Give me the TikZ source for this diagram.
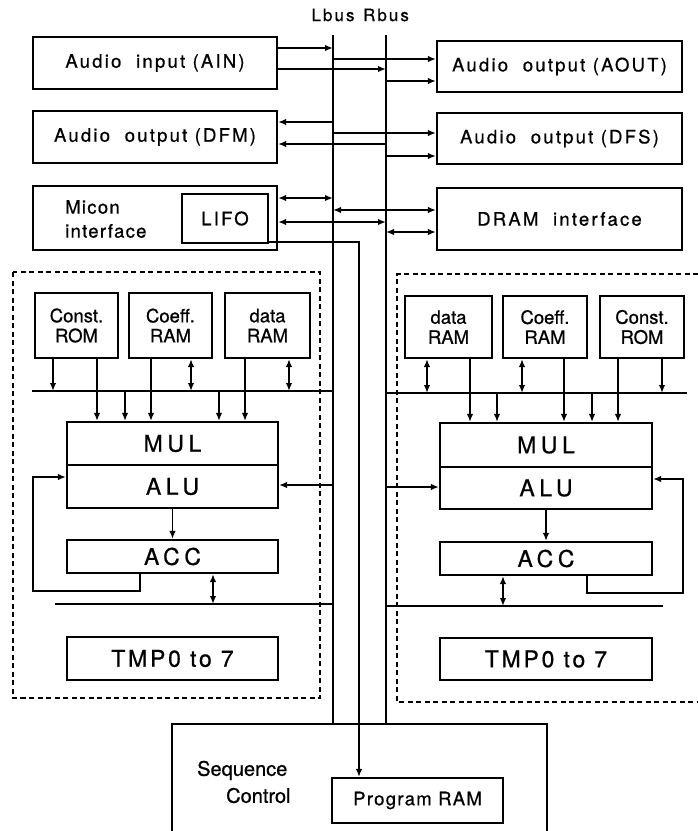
\documentclass[tikz,border=0pt]{standalone}
\usepackage{fontspec}
\setmainfont[FakeBold=0.7]{TeX Gyre Heros}
\newfontfamily\spA[LetterSpace=12,FakeBold=0.7]{TeX Gyre Heros}
\newfontfamily\spB[LetterSpace=20,FakeBold=0.7]{TeX Gyre Heros}
\newfontfamily\spC[LetterSpace=7,FakeBold=0.7]{TeX Gyre Heros}
\usetikzlibrary{arrows.meta}
\begin{document}
\begin{tikzpicture}[x=1pt,y=-1pt,
  box/.style={draw, line width=2.2pt, inner sep=0pt, align=center},
  lbl/.style={font=\spA\fontsize{18.5}{20}\selectfont},
  ram/.style={font=\fontsize{18.5}{20}\selectfont},
  big/.style={font=\spB\fontsize{23}{25}\selectfont},
  conn/.style={line width=1.9pt},
  arr/.style={conn, -{Latex[length=8pt,width=6.5pt]}},
  darr/.style={conn, {Latex[length=8pt,width=6.5pt]}-{Latex[length=8pt,width=6.5pt]}},
  bus/.style={line width=2.8pt},
  dsp/.style={line width=1.9pt, dash pattern=on 5pt off 3.5pt}]
\useasboundingbox (0,0) rectangle (698,831);
\fill[white] (0,0) rectangle (698,831);

% bus lines
\coordinate (Lt) at (333,35);
\coordinate (Lb) at (333,724);
\coordinate (Rt) at (386,35);
\coordinate (Rb) at (386,724);
\node[font=\spA\fontsize{17}{18}\selectfont] (lbusl) at (333,15) {Lbus};
\node[font=\spA\fontsize{17}{18}\selectfont] (rbusl) at (386,15) {Rbus};

% top boxes
\node[box,lbl,minimum width=244pt,minimum height=52pt] (AIN) at (155,63) {Audio\ \ input (AIN)};
\node[box,lbl,minimum width=245pt,minimum height=51pt] (AOUT) at (559.5,66.5) {Audio\ \ output (AOUT)};
\node[box,lbl,minimum width=244pt,minimum height=52pt] (DFM) at (155,137) {Audio\ \ output (DFM)};
\node[box,lbl,minimum width=245pt,minimum height=51pt] (DFS) at (559.5,138.5) {Audio\ \ output (DFS)};
\node[box,minimum width=244pt,minimum height=64pt] (MICON) at (155,218) {};
\node[ram,font=\spC\fontsize{18.5}{24}\selectfont,align=left,anchor=west,inner sep=0pt] (MICONt) at (65,219) {Micon\\interface};
\node[box,lbl,minimum width=86pt,minimum height=49pt] (LIFO) at (225,218.5) {LIFO};
\node[box,lbl,minimum width=245pt,minimum height=62pt] (DRAM) at (559.5,219) {DRAM\ \ interface};

% left DSP
\draw[dsp] (13,272) rectangle (320,698);
\node[box,ram,minimum width=83pt,minimum height=65pt] (CRL) at (76.5,325.5) {Const.\\ROM};
\node[box,ram,minimum width=83pt,minimum height=65pt] (KRL) at (170.5,325.5) {Coeff.\\RAM};
\node[box,ram,minimum width=85pt,minimum height=65pt] (DRL) at (267.5,325.5) {data\\RAM};
\node[box,big,minimum width=211pt,minimum height=43pt] (MULL) at (172.5,443.5) {MUL};
\node[box,big,minimum width=211pt,minimum height=43pt] (ALUL) at (172.5,486.5) {ALU};
\node[box,big,minimum width=211pt,minimum height=33pt] (ACCL) at (172.5,556.5) {ACC};
\node[box,big,font=\spA\fontsize{23}{25}\selectfont,minimum width=211pt,minimum height=43pt] (TMPL) at (172.5,658.5) {TMP0 to 7};

% right DSP
\draw[dsp] (698,274) -- (397,274) -- (397,702) -- (698,702);
\node[box,ram,minimum width=87pt,minimum height=62pt] (DRR) at (448.5,327) {data\\RAM};
\node[box,ram,minimum width=84pt,minimum height=62pt] (KRR) at (545,327) {Coeff.\\RAM};
\node[box,ram,minimum width=84pt,minimum height=62pt] (CRR) at (642,327) {Const.\\ROM};
\node[box,big,minimum width=212pt,minimum height=44pt] (MULR) at (546,445) {MUL};
\node[box,big,minimum width=212pt,minimum height=42pt] (ALUR) at (546,488) {ALU};
\node[box,big,minimum width=212pt,minimum height=33pt] (ACCR) at (546,558.5) {ACC};
\node[box,big,font=\spA\fontsize{23}{25}\selectfont,minimum width=212pt,minimum height=42pt] (TMPR) at (546,659) {TMP0 to 7};

% sequence control
\draw[line width=2.2pt] (172,831) -- (172,724) -- (547,724) -- (547,831);
\node[ram,font=\fontsize{20}{27}\selectfont,align=left,anchor=west,inner sep=0pt] (SEQ) at (197,782) {Sequence\\\hspace*{29pt}Control};
\node[box,font=\spC\fontsize{18.5}{20}\selectfont,minimum width=171pt,minimum height=45pt] (PRAM) at (417.5,800.5) {Program RAM};

% buses
\draw[bus] (Lt) -- (Lb);
\draw[bus] (Rt) -- (Rb);

% top connections
\draw[arr] (AIN.east |- 0,48) -- (Lt |- 0,48);
\draw[arr] (Lt |- 0,59) -- (AOUT.west |- 0,59);
\draw[arr] (AIN.east |- 0,69) -- (Rt |- 0,69);
\draw[arr] (Rt |- 0,81) -- (AOUT.west |- 0,81);
\draw[arr] (Lt |- 0,122) -- (DFM.east |- 0,122);
\draw[arr] (Lt |- 0,133) -- (DFS.west |- 0,133);
\draw[arr] (Rt |- 0,144) -- (DFM.east |- 0,144);
\draw[arr] (Rt |- 0,156) -- (DFS.west |- 0,156);
\draw[darr] (MICON.east |- 0,198) -- (Lt |- 0,198);
\draw[darr] (Lt |- 0,210) -- (DRAM.west |- 0,210);
\draw[darr] (MICON.east |- 0,222) -- (Rt |- 0,222);
\draw[darr] (Rt |- 0,232) -- (DRAM.west |- 0,232);
\coordinate (lifoturn) at (359,242);
\draw[arr] (LIFO.east |- lifoturn) -- (lifoturn) -- (lifoturn |- PRAM.north);

% left DSP bus and connections
\coordinate (LB1) at (32,391);
\draw[conn] (LB1) -- (LB1 -| Lt);
\draw[arr] (CRL.south -| 53,0) -- (LB1 -| 53,0);
\draw[arr] (CRL.south -| 97,0) -- (MULL.north -| 97,0);
\draw[arr] (LB1 -| 125,0) -- (MULL.north -| 125,0);
\draw[arr] (KRL.south -| 151,0) -- (MULL.north -| 151,0);
\draw[darr] (KRL.south -| 191,0) -- (LB1 -| 191,0);
\draw[arr] (LB1 -| 219,0) -- (MULL.north -| 219,0);
\draw[arr] (DRL.south -| 245,0) -- (MULL.north -| 245,0);
\draw[darr] (DRL.south -| 289,0) -- (LB1 -| 289,0);

\draw[arr] (Lt |- 0,485) -- (ALUL.east |- 0,485);
\draw[arr] (ALUL.south) -- (ACCL.north);
\draw[arr] (ACCL.south -| 140,0) -- (140,591) -- (33,591) -- (33,477) -- (ALUL.west |- 0,477);
\coordinate (LB2) at (55,604);
\draw[conn] (LB2) -- (LB2 -| Lt);
\draw[darr] (ACCL.south -| 213,0) -- (LB2 -| 213,0);

% right DSP bus and connections
\coordinate (RB1) at (687,393);
\draw[conn] (Rt |- RB1) -- (RB1);
\draw[darr] (DRR.south -| 427,0) -- (RB1 -| 427,0);
\draw[arr] (DRR.south -| 470,0) -- (MULR.north -| 470,0);
\draw[arr] (RB1 -| 497,0) -- (MULR.north -| 497,0);
\draw[darr] (KRR.south -| 522,0) -- (RB1 -| 522,0);
\draw[arr] (KRR.south -| 564,0) -- (MULR.north -| 564,0);
\draw[arr] (RB1 -| 592,0) -- (MULR.north -| 592,0);
\draw[arr] (CRR.south -| 618,0) -- (MULR.north -| 618,0);
\draw[arr] (CRR.south -| 662,0) -- (RB1 -| 662,0);

\draw[arr] (Rt |- 0,487) -- (ALUR.west |- 0,487);
\draw[arr] (ALUR.south) -- (ACCR.north);
\draw[arr] (ACCR.south -| 587,0) -- (587,593) -- (683,593) -- (683,479) -- (ALUR.east |- 0,479);
\coordinate (RB2) at (663,606);
\draw[conn] (Rt |- RB2) -- (RB2);
\draw[darr] (ACCR.south -| 503,0) -- (RB2 -| 503,0);
\end{tikzpicture}
\end{document}
